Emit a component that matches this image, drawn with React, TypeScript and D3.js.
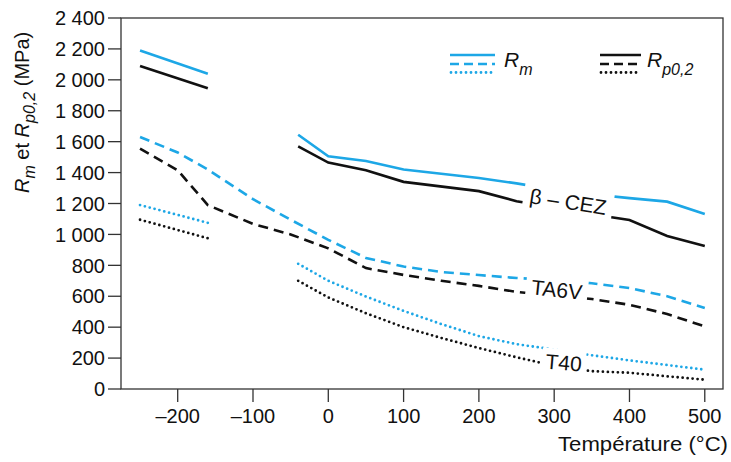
import React from "react";
import * as d3 from "d3";

// ---- Data ----
const cezTempsA = [-250, -160];
const cezRmA = [2190, 2040];
const cezRpA = [2090, 1945];
const cezTempsB = [-40, 0, 50, 100, 200, 250, 300, 350, 400, 450, 500];
const cezRmB = [1645, 1505, 1475, 1420, 1365, 1330, 1290, 1260, 1235, 1212, 1132];
const cezRpB = [1570, 1465, 1415, 1340, 1280, 1215, 1175, 1130, 1093, 990, 925];

const ta6vTemps = [-250, -200, -160, -100, -50, 0, 50, 100, 150, 200, 250, 300, 350, 400, 450, 500];
const ta6vRm = [1630, 1530, 1420, 1228, 1095, 965, 848, 792, 757, 737, 718, 704, 684, 653, 600, 524];
const ta6vRp = [1555, 1415, 1190, 1068, 1000, 910, 782, 738, 700, 667, 628, 605, 582, 545, 485, 405];

const t40TempsA = [-250, -160];
const t40RmA = [1190, 1075];
const t40RpA = [1095, 975];
const t40TempsB = [-40, 0, 50, 100, 150, 200, 250, 300, 350, 400, 450, 500];
const t40RmB = [810, 700, 598, 505, 420, 342, 290, 255, 218, 185, 155, 125];
const t40RpB = [700, 592, 490, 400, 330, 265, 205, 150, 115, 105, 82, 60];

const xTicks = [-200, -100, 0, 100, 200, 300, 400, 500];
const xTickLabels = ["\u2013200", "\u2013100", "0", "100", "200", "300", "400", "500"];
const yTicks = [0, 200, 400, 600, 800, 1000, 1200, 1400, 1600, 1800, 2000, 2200, 2400];
const yTickLabels = ["0", "200", "400", "600", "800", "1\u00a0000", "1\u00a0200", "1\u00a0400", "1\u00a0600", "1\u00a0800", "2\u00a0000", "2\u00a0200", "2\u00a0400"];

const BLUE = "#1da7e6";
const BLACK = "#111111";
const FONT = "'Liberation Sans', Arial, sans-serif";

export default function App() {
  const x = d3.scaleLinear().domain([-275.3, 524.2]).range([121, 723]);
  const y = d3.scaleLinear().domain([0, 2400]).range([389, 18]);
  const line = d3
    .line<[number, number]>()
    .x((d) => x(d[0]))
    .y((d) => y(d[1]));
  const mk = (ts: number[], vs: number[]) => line(ts.map((t, i) => [t, vs[i]] as [number, number])) || "";

  const solid = { fill: "none", strokeWidth: 2.6 };
  const dashed = { fill: "none", strokeWidth: 2.6, strokeDasharray: "10,6" };
  const dotted = { fill: "none", strokeWidth: 2.8, strokeDasharray: "0,5", strokeLinecap: "round" as const };

  const series = [
    { d: mk(cezTempsA, cezRmA), c: BLUE, s: solid },
    { d: mk(cezTempsA, cezRpA), c: BLACK, s: solid },
    { d: mk(cezTempsB, cezRmB), c: BLUE, s: solid },
    { d: mk(cezTempsB, cezRpB), c: BLACK, s: solid },
    { d: mk(ta6vTemps, ta6vRm), c: BLUE, s: dashed },
    { d: mk(ta6vTemps, ta6vRp), c: BLACK, s: dashed },
    { d: mk(t40TempsA, t40RmA), c: BLUE, s: dotted },
    { d: mk(t40TempsA, t40RpA), c: BLACK, s: dotted },
    { d: mk(t40TempsB, t40RmB), c: BLUE, s: dotted },
    { d: mk(t40TempsB, t40RpB), c: BLACK, s: dotted },
  ];

  const labels = [
    { text: "\u03b2 \u2013 CEZ", cx: 567, cy: 209, rot: 9, w: 90, h: 30 },
    { text: "TA6V", cx: 556, cy: 297, rot: 6, w: 62, h: 27 },
    { text: "T40", cx: 563, cy: 370, rot: 5, w: 44, h: 27 },
  ];

  return (
    <svg
      width={731}
      height={462}
      style={{ position: "absolute", left: 0, top: 0, background: "#fff" }}
      fontFamily={FONT}
    >
      <rect x={0} y={0} width={731} height={462} fill="#fff" />
      {/* frame */}
      <rect x={121} y={18} width={602} height={371} fill="none" stroke="#333" strokeWidth={1.3} />
      {/* y ticks */}
      {yTicks.map((v, i) => (
        <g key={"y" + v}>
          <line x1={108} x2={121} y1={y(v)} y2={y(v)} stroke="#333" strokeWidth={1.3} />
          <text x={105} y={y(v)} dy="0.36em" textAnchor="end" fontSize={20} fill="#111">
            {yTickLabels[i]}
          </text>
        </g>
      ))}
      {/* x ticks */}
      {xTicks.map((t, i) => (
        <g key={"x" + t}>
          <line x1={x(t)} x2={x(t)} y1={389} y2={402} stroke="#333" strokeWidth={1.3} />
          <text x={x(t)} y={423} textAnchor="middle" fontSize={20} fill="#111">
            {xTickLabels[i]}
          </text>
        </g>
      ))}
      {/* axis titles */}
      <text x={728} y={451} textAnchor="end" fontSize={21} fill="#111" textLength={170} lengthAdjust="spacingAndGlyphs">
        Température (°C)
      </text>
      <text transform="translate(29,193) rotate(-90)" fontSize={20} fill="#111">
        <tspan fontStyle="italic">R</tspan>
        <tspan fontStyle="italic" fontSize={16} dy={6}>m</tspan>
        <tspan dy={-6}> et </tspan>
        <tspan fontStyle="italic">R</tspan>
        <tspan fontStyle="italic" fontSize={16} dy={6}>p0,2</tspan>
        <tspan dy={-6}> (MPa)</tspan>
      </text>

      {/* series */}
      {series.map((s, i) => (
        <path key={i} d={s.d} stroke={s.c} {...s.s} />
      ))}

      {/* curve labels */}
      {labels.map((l) => (
        <g key={l.text} transform={`translate(${l.cx},${l.cy}) rotate(${l.rot})`}>
          <rect x={-l.w / 2} y={-l.h + 6} width={l.w} height={l.h} fill="#fff" />
          <text x={0} y={0} textAnchor="middle" fontSize={21} fill="#111">
            {l.text}
          </text>
        </g>
      ))}

      {/* legend */}
      <g>
        <line x1={450} x2={495} y1={55} y2={55} stroke={BLUE} {...solid} />
        <line x1={450} x2={495} y1={64} y2={64} stroke={BLUE} {...dashed} strokeDasharray="9,5" />
        <line x1={451} x2={495} y1={72.5} y2={72.5} stroke={BLUE} {...dotted} />
        <text x={504} y={67} fontSize={21} fill="#111" fontStyle="italic">
          R<tspan fontSize={16} dy={8}>m</tspan>
        </text>
        <line x1={600} x2={641} y1={55} y2={55} stroke={BLACK} {...solid} />
        <line x1={600} x2={641} y1={64} y2={64} stroke={BLACK} {...dashed} strokeDasharray="9,5" />
        <line x1={601} x2={641} y1={72.5} y2={72.5} stroke={BLACK} {...dotted} />
        <text x={647} y={67} fontSize={21} fill="#111" fontStyle="italic">
          R<tspan fontSize={16} dy={8}>p0,2</tspan>
        </text>
      </g>
    </svg>
  );
}
